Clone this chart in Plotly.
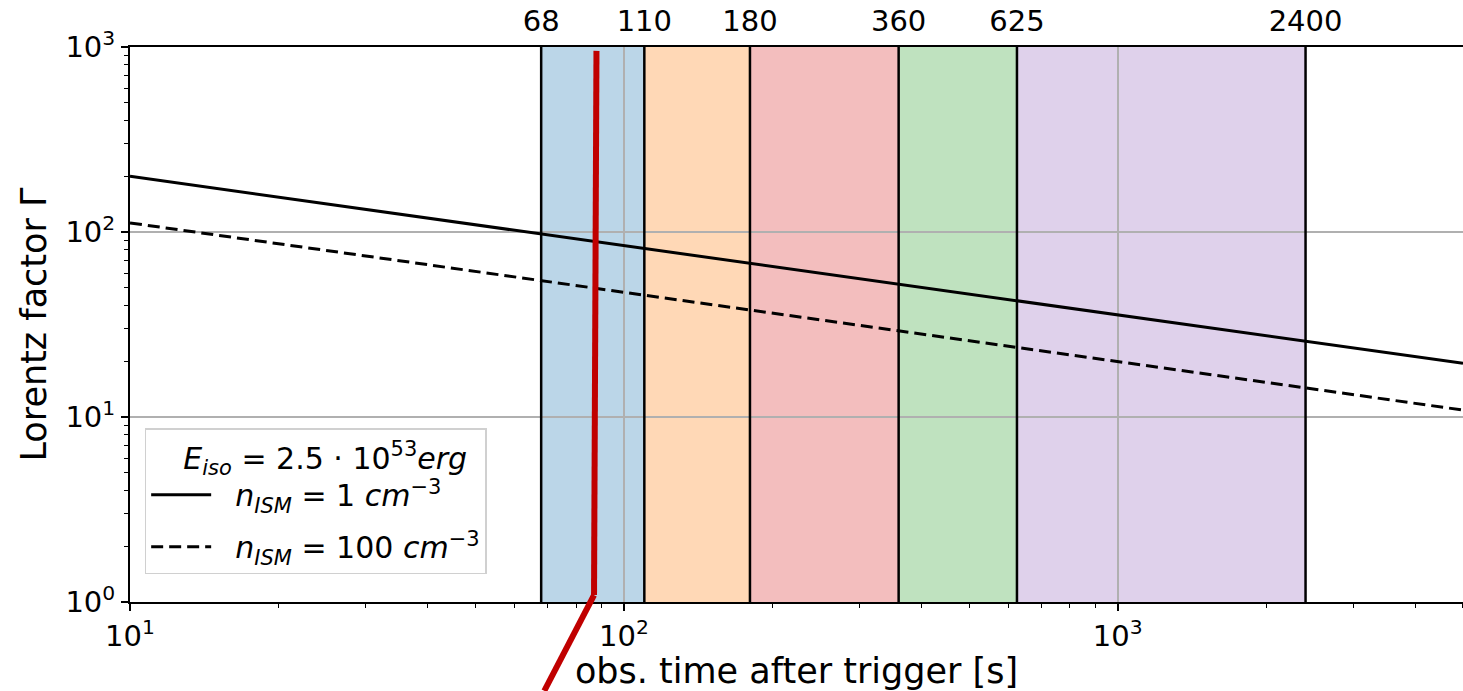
import plotly.graph_objects as go

# Deceleration-phase Lorentz factor vs observer time for two ISM densities
t_obs = [10, 5000]
gamma_n1 = [200, 19.5]
gamma_n100 = [112, 10.9]

# Observation windows (band edges in seconds) and their fill colours
band_edges = [68, 110, 180, 360, 625, 2400]
band_fills = [
    "rgba(31,119,180,0.3)",
    "rgba(255,127,14,0.3)",
    "rgba(214,39,40,0.3)",
    "rgba(44,160,44,0.3)",
    "rgba(148,103,189,0.3)",
]

# Red marker path: x in seconds, y in paper fraction
marker_x = [88, 87, 69]
marker_y = [0.993, 0.0126, -0.16]

x_range = [1, 3.699]
y_range = [0, 3]

FONT = "DejaVu Sans"

fig = go.Figure()

shapes = []
for i, fill in enumerate(band_fills):
    shapes.append(dict(type="rect", xref="x", yref="paper",
                       x0=band_edges[i], x1=band_edges[i + 1], y0=0, y1=1,
                       fillcolor=fill, line_width=0, layer="below"))
for e in band_edges:
    shapes.append(dict(type="line", xref="x", yref="paper",
                       x0=e, x1=e, y0=0, y1=1,
                       line=dict(color="black", width=2.5), layer="above"))
for i in range(len(marker_x) - 1):
    shapes.append(dict(type="line", xref="x", yref="paper",
                       x0=marker_x[i], x1=marker_x[i + 1],
                       y0=marker_y[i], y1=marker_y[i + 1],
                       line=dict(color="#c00000", width=6), layer="above"))

SP = "&nbsp;&nbsp;"
fig.add_trace(go.Scatter(
    x=t_obs, y=gamma_n1, mode="lines", legendgroup="a",
    line=dict(color="black", width=3),
    name=SP + "<i>n</i><sub><i>ISM</i></sub> = 1 <i>cm</i><sup>−3</sup>"))
fig.add_trace(go.Scatter(
    x=t_obs, y=gamma_n100, mode="lines", legendgroup="b",
    line=dict(color="black", width=3, dash="12px,6px"),
    name=SP + "<i>n</i><sub><i>ISM</i></sub> = 100 <i>cm</i><sup>−3</sup>"))
# carrier for the top axis
fig.add_trace(go.Scatter(x=[band_edges[0]], y=[1], xaxis="x2", mode="markers",
                         marker=dict(opacity=0), showlegend=False, hoverinfo="skip"))

minor_x = [m * 10 ** d for d in (1, 2, 3) for m in range(2, 10) if m * 10 ** d <= 5000]
minor_y = [m * 10 ** d for d in (0, 1, 2) for m in range(2, 10)]

fig.update_layout(
    width=1463, height=691,
    margin=dict(l=130, r=0, t=47, b=89),
    plot_bgcolor="white", paper_bgcolor="white",
    font=dict(family=FONT, size=29, color="black"),
    shapes=shapes,
    showlegend=True,
    legend=dict(
        x=0.011, y=0.313, xanchor="left", yanchor="top",
        bgcolor="rgba(255,255,255,0.85)", bordercolor="#d0d0d0", borderwidth=1.5,
        font=dict(family=FONT, size=30),
        title=dict(text="&nbsp;&nbsp;<i>E</i><sub><i>iso</i></sub> = 2.5 · 10<sup>53</sup><i>erg</i>",
                   side="top center", font=dict(family=FONT, size=30)),
        itemwidth=60,
        tracegroupgap=10,
    ),
    xaxis=dict(
        type="log", range=x_range,
        tickvals=[10, 100, 1000],
        ticktext=["10<sup>1</sup>", "10<sup>2</sup>", "10<sup>3</sup>"],
        ticks="outside", ticklen=7, tickwidth=1.5, tickcolor="black",
        minor=dict(tickvals=minor_x, ticks="outside", ticklen=4, tickwidth=1,
                   tickcolor="black", showgrid=False),
        showgrid=True, gridcolor="#b0b0b0", gridwidth=1.5,
        showline=True, linecolor="black", linewidth=2, mirror=True,
        zeroline=False,
        title=dict(text="obs. time after trigger [s]", standoff=4),
    ),
    xaxis2=dict(
        type="log", range=x_range, overlaying="x", side="top", anchor="y",
        tickvals=band_edges, ticktext=[str(e) for e in band_edges],
        ticks="", showgrid=False, showline=False, zeroline=False,
        ticklabelstandoff=9,
        tickfont=dict(family=FONT, size=29),
    ),
    yaxis=dict(
        type="log", range=y_range,
        tickvals=[1, 10, 100, 1000],
        ticktext=["10<sup>0</sup>", "10<sup>1</sup>", "10<sup>2</sup>", "10<sup>3</sup>"],
        ticks="outside", ticklen=7, tickwidth=1.5, tickcolor="black",
        minor=dict(tickvals=minor_y, ticks="outside", ticklen=4, tickwidth=1,
                   tickcolor="black", showgrid=False),
        showgrid=True, gridcolor="#b0b0b0", gridwidth=1.5,
        showline=True, linecolor="black", linewidth=2,
        zeroline=False,
        title=dict(text="Lorentz factor Γ", standoff=8),
    ),
)

fig.write_html("out.html")
